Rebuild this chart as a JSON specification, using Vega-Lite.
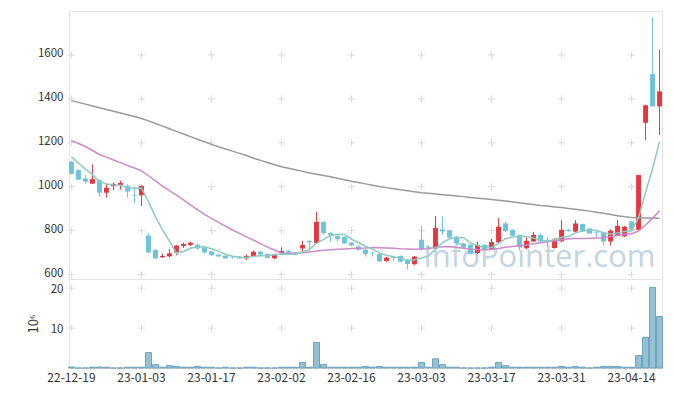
{
  "$schema": "https://vega.github.io/schema/vega-lite/v6.json",
  "background": "white",
  "padding": {"left": 26, "top": 10, "right": 10, "bottom": 5},
  "spacing": 0,
  "bounds": "flush",
  "datasets": {
    "k": [
      {"d":"22-12-19","o":1114,"h":1118,"l":1055,"c":1059,"v":0.25,"m5":1136,"m20":1210,"m120":1392},
      {"d":"22-12-20","o":1076,"h":1080,"l":1030,"c":1032,"v":0,"m5":1108,"m20":1197,"m120":1384},
      {"d":"22-12-21","o":1037,"h":1055,"l":1014,"c":1023,"v":0,"m5":1080,"m20":1183,"m120":1376},
      {"d":"22-12-22","o":1014,"h":1102,"l":1012,"c":1035,"v":0.2,"m5":1055,"m20":1165,"m120":1368},
      {"d":"22-12-23","o":1031,"h":1033,"l":955,"c":973,"v":0.25,"m5":1024,"m20":1147,"m120":1360},
      {"d":"22-12-26","o":973,"h":1014,"l":951,"c":995,"v":0.2,"m5":1012,"m20":1135,"m120":1352},
      {"d":"22-12-27","o":1002,"h":1019,"l":985,"c":1013,"v":0,"m5":1008,"m20":1122,"m120":1344},
      {"d":"22-12-28","o":1008,"h":1028,"l":987,"c":1017,"v":0,"m5":1007,"m20":1110,"m120":1336},
      {"d":"22-12-29","o":1004,"h":1011,"l":951,"c":978,"v":0.2,"m5":995,"m20":1097,"m120":1328},
      {"d":"23-01-02","o":963,"h":1002,"l":925,"c":960,"v":0.2,"m5":993,"m20":1085,"m120":1320},
      {"d":"23-01-03","o":961,"h":1006,"l":912,"c":1004,"v":0.2,"m5":994,"m20":1072,"m120":1311},
      {"d":"23-01-04","o":777,"h":789,"l":699,"c":701,"v":3.85,"m5":932,"m20":1050,"m120":1300},
      {"d":"23-01-05","o":712,"h":715,"l":671,"c":674,"v":0.85,"m5":863,"m20":1027,"m120":1288},
      {"d":"23-01-06","o":679,"h":695,"l":676,"c":685,"v":0.2,"m5":805,"m20":1003,"m120":1276},
      {"d":"23-01-09","o":683,"h":716,"l":680,"c":697,"v":0.6,"m5":752,"m20":982,"m120":1264},
      {"d":"23-01-10","o":700,"h":734,"l":688,"c":732,"v":0.4,"m5":698,"m20":962,"m120":1252},
      {"d":"23-01-11","o":730,"h":745,"l":721,"c":739,"v":0.2,"m5":705,"m20":940,"m120":1240},
      {"d":"23-01-12","o":735,"h":750,"l":730,"c":745,"v":0.2,"m5":720,"m20":917,"m120":1228},
      {"d":"23-01-13","o":736,"h":741,"l":713,"c":719,"v":0.4,"m5":726,"m20":895,"m120":1216},
      {"d":"23-01-16","o":724,"h":727,"l":695,"c":701,"v":0.2,"m5":727,"m20":874,"m120":1205},
      {"d":"23-01-17","o":706,"h":708,"l":686,"c":688,"v":0.2,"m5":718,"m20":856,"m120":1193},
      {"d":"23-01-18","o":691,"h":695,"l":680,"c":683,"v":0,"m5":707,"m20":838,"m120":1182},
      {"d":"23-01-19","o":686,"h":688,"l":672,"c":674,"v":0.2,"m5":693,"m20":821,"m120":1172},
      {"d":"23-01-20","o":678,"h":683,"l":672,"c":676,"v":0,"m5":684,"m20":803,"m120":1162},
      {"d":"23-01-25","o":682,"h":684,"l":672,"c":674,"v":0,"m5":679,"m20":788,"m120":1152},
      {"d":"23-01-26","o":674,"h":691,"l":667,"c":685,"v":0.2,"m5":678,"m20":772,"m120":1142},
      {"d":"23-01-27","o":685,"h":709,"l":684,"c":704,"v":0.2,"m5":683,"m20":757,"m120":1130},
      {"d":"23-01-30","o":704,"h":708,"l":688,"c":691,"v":0,"m5":686,"m20":741,"m120":1120},
      {"d":"23-01-31","o":694,"h":696,"l":674,"c":676,"v":0,"m5":686,"m20":725,"m120":1110},
      {"d":"23-02-01","o":674,"h":695,"l":671,"c":692,"v":0,"m5":690,"m20":712,"m120":1100},
      {"d":"23-02-02","o":698,"h":724,"l":692,"c":707,"v":0.2,"m5":694,"m20":697,"m120":1091},
      {"d":"23-02-03","o":707,"h":713,"l":691,"c":697,"v":0.2,"m5":693,"m20":697,"m120":1084},
      {"d":"23-02-06","o":701,"h":703,"l":688,"c":691,"v":0.2,"m5":693,"m20":698,"m120":1077},
      {"d":"23-02-07","o":719,"h":754,"l":700,"c":735,"v":1.4,"m5":704,"m20":700,"m120":1070},
      {"d":"23-02-08","o":754,"h":756,"l":704,"c":747,"v":0.2,"m5":715,"m20":703,"m120":1063},
      {"d":"23-02-09","o":744,"h":886,"l":742,"c":840,"v":6.4,"m5":742,"m20":708,"m120":1057},
      {"d":"23-02-10","o":840,"h":842,"l":782,"c":789,"v":0.9,"m5":760,"m20":711,"m120":1051},
      {"d":"23-02-13","o":789,"h":796,"l":750,"c":780,"v":0.2,"m5":778,"m20":713,"m120":1045},
      {"d":"23-02-14","o":775,"h":780,"l":753,"c":762,"v":0.2,"m5":784,"m20":715,"m120":1039},
      {"d":"23-02-15","o":772,"h":774,"l":739,"c":742,"v":0.2,"m5":783,"m20":717,"m120":1032},
      {"d":"23-02-16","o":746,"h":748,"l":730,"c":733,"v":0.2,"m5":761,"m20":719,"m120":1025},
      {"d":"23-02-17","o":728,"h":733,"l":710,"c":713,"v":0.2,"m5":746,"m20":720,"m120":1019},
      {"d":"23-02-20","o":713,"h":719,"l":682,"c":694,"v":0.4,"m5":729,"m20":721,"m120":1013},
      {"d":"23-02-21","o":700,"h":706,"l":682,"c":697,"v":0.2,"m5":716,"m20":723,"m120":1007},
      {"d":"23-02-22","o":694,"h":698,"l":659,"c":660,"v":0.4,"m5":699,"m20":722,"m120":1001},
      {"d":"23-02-23","o":662,"h":680,"l":659,"c":677,"v":0.2,"m5":688,"m20":721,"m120":996},
      {"d":"23-02-24","o":680,"h":684,"l":663,"c":675,"v":0.2,"m5":681,"m20":720,"m120":991},
      {"d":"23-02-27","o":685,"h":687,"l":657,"c":659,"v":0.2,"m5":674,"m20":718,"m120":986},
      {"d":"23-02-28","o":669,"h":670,"l":626,"c":648,"v":0.2,"m5":664,"m20":717,"m120":982},
      {"d":"23-03-02","o":647,"h":685,"l":645,"c":682,"v":0.2,"m5":668,"m20":716,"m120":977},
      {"d":"23-03-03","o":759,"h":822,"l":709,"c":715,"v":1.4,"m5":676,"m20":717,"m120":973},
      {"d":"23-03-06","o":726,"h":730,"l":715,"c":723,"v":0.2,"m5":685,"m20":718,"m120":970},
      {"d":"23-03-07","o":719,"h":867,"l":717,"c":813,"v":2.3,"m5":716,"m20":724,"m120":967},
      {"d":"23-03-08","o":806,"h":864,"l":780,"c":796,"v":0.85,"m5":746,"m20":727,"m120":964},
      {"d":"23-03-09","o":802,"h":804,"l":766,"c":768,"v":0.2,"m5":763,"m20":728,"m120":961},
      {"d":"23-03-10","o":773,"h":775,"l":739,"c":742,"v":0.2,"m5":768,"m20":723,"m120":958},
      {"d":"23-03-13","o":742,"h":744,"l":720,"c":722,"v":0,"m5":768,"m20":720,"m120":955},
      {"d":"23-03-14","o":736,"h":738,"l":692,"c":694,"v":0,"m5":744,"m20":716,"m120":951},
      {"d":"23-03-15","o":698,"h":750,"l":694,"c":735,"v":0,"m5":732,"m20":714,"m120":948},
      {"d":"23-03-16","o":736,"h":738,"l":713,"c":715,"v":0,"m5":722,"m20":713,"m120":945},
      {"d":"23-03-17","o":715,"h":762,"l":713,"c":748,"v":0.2,"m5":723,"m20":714,"m120":942},
      {"d":"23-03-20","o":747,"h":857,"l":745,"c":818,"v":1.4,"m5":742,"m20":719,"m120":939},
      {"d":"23-03-21","o":833,"h":840,"l":794,"c":798,"v":0.55,"m5":763,"m20":724,"m120":935},
      {"d":"23-03-22","o":804,"h":806,"l":775,"c":777,"v":0.2,"m5":771,"m20":728,"m120":931},
      {"d":"23-03-23","o":781,"h":783,"l":710,"c":725,"v":0.2,"m5":773,"m20":732,"m120":927},
      {"d":"23-03-24","o":720,"h":770,"l":716,"c":754,"v":0.2,"m5":774,"m20":735,"m120":923},
      {"d":"23-03-27","o":751,"h":795,"l":748,"c":781,"v":0.2,"m5":767,"m20":741,"m120":919},
      {"d":"23-03-28","o":781,"h":784,"l":747,"c":750,"v":0.2,"m5":757,"m20":745,"m120":915},
      {"d":"23-03-29","o":757,"h":772,"l":725,"c":752,"v":0.2,"m5":752,"m20":750,"m120":912},
      {"d":"23-03-30","o":721,"h":766,"l":718,"c":762,"v":0.2,"m5":760,"m20":754,"m120":908},
      {"d":"23-03-31","o":751,"h":848,"l":748,"c":804,"v":0.4,"m5":770,"m20":759,"m120":905},
      {"d":"23-04-03","o":804,"h":808,"l":795,"c":798,"v":0.2,"m5":773,"m20":763,"m120":901},
      {"d":"23-04-04","o":796,"h":848,"l":794,"c":833,"v":0.4,"m5":790,"m20":764,"m120":897},
      {"d":"23-04-05","o":830,"h":832,"l":794,"c":796,"v":0.2,"m5":799,"m20":764,"m120":893},
      {"d":"23-04-06","o":810,"h":812,"l":785,"c":787,"v":0,"m5":804,"m20":765,"m120":889},
      {"d":"23-04-07","o":792,"h":800,"l":770,"c":789,"v":0.2,"m5":801,"m20":767,"m120":884},
      {"d":"23-04-10","o":792,"h":794,"l":732,"c":751,"v":0.4,"m5":791,"m20":768,"m120":879},
      {"d":"23-04-11","o":751,"h":806,"l":732,"c":800,"v":0.4,"m5":785,"m20":774,"m120":874},
      {"d":"23-04-12","o":781,"h":848,"l":779,"c":822,"v":0.4,"m5":790,"m20":778,"m120":868},
      {"d":"23-04-13","o":774,"h":822,"l":772,"c":818,"v":0.2,"m5":796,"m20":783,"m120":863},
      {"d":"23-04-14","o":842,"h":844,"l":802,"c":804,"v":0.2,"m5":799,"m20":786,"m120":860},
      {"d":"23-04-17","o":804,"h":1055,"l":802,"c":1053,"v":3.1,"m5":859,"m20":798,"m120":859},
      {"d":"23-04-18","o":1291,"h":1373,"l":1211,"c":1371,"v":7.7,"m5":974,"m20":826,"m120":858},
      {"d":"23-04-19","o":1513,"h":1770,"l":1364,"c":1366,"v":20.2,"m5":1082,"m20":856,"m120":858},
      {"d":"23-04-20","o":1366,"h":1624,"l":1235,"c":1434,"v":12.9,"m5":1206,"m20":891,"m120":857}
    ]
  },
  "vconcat": [
    {
      "width": 593,
      "height": 268,
      "encoding": {
        "x": {
          "field": "d", "type": "ordinal",
          "scale": {"paddingInner": 0.3, "paddingOuter": 0},
          "axis": null
        }
      },
      "layer": [
        {
          "data": {"values": [{"d": ["22-12-19","23-01-03","23-01-17","23-02-02","23-02-16","23-03-03","23-03-17","23-03-31","23-04-14"], "p": [600, 800, 1000, 1200, 1400, 1600]}]},
          "transform": [{"flatten": ["d"]}, {"flatten": ["p"]}],
          "mark": {"type": "point", "shape": "M-1,0L1,0M0,-1L0,1", "size": 49, "filled": false, "stroke": "#d9d9d9", "strokeWidth": 1, "opacity": 1},
          "encoding": {
            "y": {"field": "p", "type": "quantitative", "title": null,
                  "scale": {"domain": [580, 1800], "nice": false, "zero": false},
                  "axis": {"values": [600, 800, 1000, 1200, 1400, 1600], "format": "d", "grid": false, "labelOffset": -1}}
          }
        },
        {
          "data": {"values": [{}]},
          "mark": {"type": "text", "text": "InfoPointer.com", "font": "Open Sans", "fontSize": 31, "align": "right", "baseline": "alphabetic", "fill": "#c1d5e2", "dx": 3},
          "encoding": {
            "x": {"datum": "23-04-19"},
            "y": {"datum": 633, "type": "quantitative", "title": null, "scale": {"domain": [580, 1800], "nice": false, "zero": false}}
          }
        },
        {
          "data": {"name": "k"},
          "mark": {"type": "rule", "strokeWidth": 1},
          "encoding": {
            "y": {"field": "l", "type": "quantitative", "title": null, "scale": {"domain": [580, 1800], "nice": false, "zero": false}},
            "y2": {"field": "h"},
            "color": {"condition": {"test": "datum.c > datum.o", "value": "#e8363c"}, "value": "#6cc3dc"}
          }
        },
        {
          "data": {"name": "k"},
          "mark": {"type": "bar"},
          "encoding": {
            "y": {"field": "o", "type": "quantitative", "title": null, "scale": {"domain": [580, 1800], "nice": false, "zero": false}},
            "y2": {"field": "c"},
            "color": {"condition": {"test": "datum.c > datum.o", "value": "#e8363c"}, "value": "#6cc3dc"}
          }
        },
        {
          "data": {"name": "k"},
          "mark": {"type": "line", "stroke": "#9a9a9a", "strokeWidth": 1.5},
          "encoding": {
            "y": {"field": "m120", "type": "quantitative", "title": null, "scale": {"domain": [580, 1800], "nice": false, "zero": false}}
          }
        },
        {
          "data": {"name": "k"},
          "mark": {"type": "line", "stroke": "#cc8ac8", "strokeWidth": 1.5},
          "encoding": {
            "y": {"field": "m20", "type": "quantitative", "title": null, "scale": {"domain": [580, 1800], "nice": false, "zero": false}}
          }
        },
        {
          "data": {"name": "k"},
          "mark": {"type": "line", "stroke": "#8ccbc1", "strokeWidth": 1.5},
          "encoding": {
            "y": {"field": "m5", "type": "quantitative", "title": null, "scale": {"domain": [580, 1800], "nice": false, "zero": false}}
          }
        }
      ]
    },
    {
      "width": 593,
      "height": 89,
      "encoding": {
        "x": {
          "field": "d", "type": "ordinal",
          "scale": {"paddingInner": 0.3, "paddingOuter": 0},
          "axis": {
            "title": null, "labelAngle": 0, "grid": false, "bandPosition": 0.5, "labelPadding": 4,
            "domain": true, "domainColor": "#dddddd",
            "values": ["22-12-19","23-01-03","23-01-17","23-02-02","23-02-16","23-03-03","23-03-17","23-03-31","23-04-14"]
          }
        }
      },
      "layer": [
        {
          "data": {"values": [{"d": ["22-12-19","23-01-03","23-01-17","23-02-02","23-02-16","23-03-03","23-03-17","23-03-31","23-04-14"], "p": [10, 20]}]},
          "transform": [{"flatten": ["d"]}, {"flatten": ["p"]}],
          "mark": {"type": "point", "shape": "M-1,0L1,0M0,-1L0,1", "size": 49, "filled": false, "stroke": "#d9d9d9", "strokeWidth": 1, "opacity": 1},
          "encoding": {
            "y": {"field": "p", "type": "quantitative",
                  "scale": {"domain": [0, 22.3], "nice": false},
                  "axis": {"values": [10, 20], "title": "10⁶", "titlePadding": 10, "grid": false, "labelOffset": 1}}
          }
        },
        {
          "data": {"name": "k"},
          "mark": {"type": "bar", "width": {"band": 1.22}, "fill": "#96c0d3", "stroke": "#6ea3ba", "strokeWidth": 1},
          "encoding": {
            "y": {"field": "v", "type": "quantitative", "title": "10⁶", "scale": {"domain": [0, 22.3], "nice": false}}
          }
        }
      ]
    }
  ],
  "config": {
    "view": {"stroke": "#e3e3e3"},
    "axis": {
      "labelFont": "Noto Sans CJK KR", "labelFontSize": 12, "labelColor": "#333333",
      "titleFont": "Noto Sans CJK KR", "titleFontSize": 13, "titleFontWeight": "normal", "titleColor": "#333333",
      "ticks": false, "domain": false, "labelPadding": 6
    },
    "axisY": {"labelFontSize": 11.5}
  }
}
